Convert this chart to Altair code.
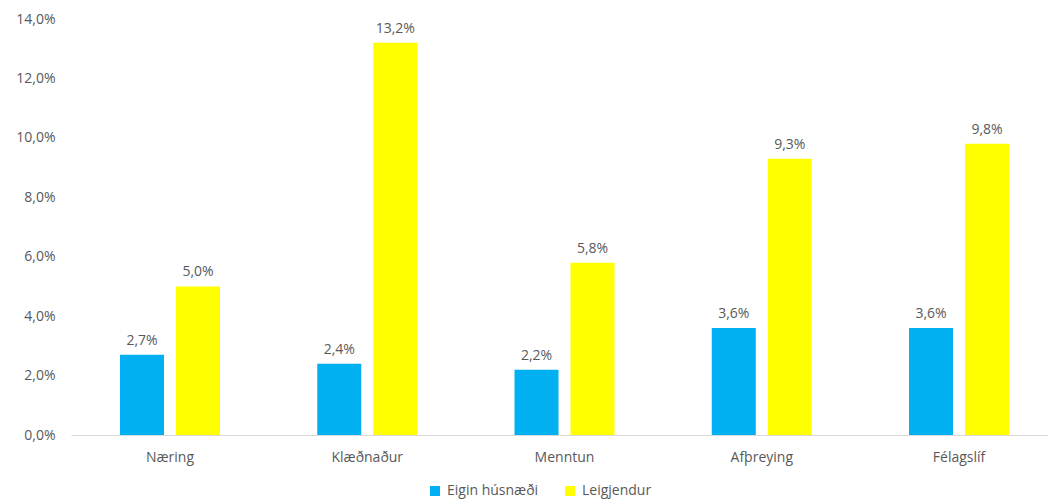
import altair as alt
import pandas as pd

categories = ["Næring", "Klæðnaður", "Menntun", "Afþreying", "Félagslíf"]
series = ["Eigin húsnæði", "Leigjendur"]
eigin = [2.7, 2.4, 2.2, 3.6, 3.6]
leigjendur = [5.0, 13.2, 5.8, 9.3, 9.8]
colors = ["#00B0F0", "#FFFF00"]

rows = []
for c, a, b in zip(categories, eigin, leigjendur):
    rows.append({"flokkur": c, "hopur": series[0], "gildi": a})
    rows.append({"flokkur": c, "hopur": series[1], "gildi": b})
df = pd.DataFrame(rows)

FONT = "Open Sans"
TXT = "#595959"
FS = 14

base = alt.Chart(df).encode(
    x=alt.X("flokkur:N", sort=categories, title=None,
            scale=alt.Scale(paddingInner=0.493, paddingOuter=0.223, align=0.557),
            axis=alt.Axis(labelAngle=0, ticks=False, domainColor="#D9D9D9",
                          labelPadding=15, labelFontSize=FS, labelColor=TXT,
                          labelFont=FONT)),
    xOffset=alt.XOffset("hopur:N", sort=series,
                        scale=alt.Scale(paddingInner=0.214, paddingOuter=0)),
)

bars = base.mark_bar().encode(
    y=alt.Y("gildi:Q", title=None,
            scale=alt.Scale(domain=[0, 14]),
            axis=alt.Axis(values=[0, 2, 4, 6, 8, 10, 12, 14], grid=False,
                          domain=False, ticks=False, labelPadding=16,
                          labelFontSize=FS, labelColor=TXT, labelFont=FONT,
                          labelExpr="replace(format(datum.value, '.1f'), '.', ',') + '%'")),
    color=alt.Color("hopur:N", sort=series,
                    scale=alt.Scale(domain=series, range=colors),
                    legend=alt.Legend(title=None, orient="none", direction="horizontal",
                                      legendX=357, legendY=465, symbolType="square",
                                      symbolSize=100, symbolStrokeWidth=0,
                                      labelFontSize=FS, labelColor=TXT, labelFont=FONT,
                                      columnPadding=24, labelOffset=5)),
)

labels = base.mark_text(baseline="alphabetic", dy=-10, fontSize=FS, color=TXT, font=FONT).encode(
    y=alt.Y("gildi:Q"),
    text=alt.Text("lbl:N"),
).transform_calculate(
    lbl="replace(format(datum.gildi, '.1f'), '.', ',') + '%'"
)

chart = alt.layer(bars, labels).properties(
    width=977, height=416,
    autosize=alt.AutoSizeParams(type="none"),
    padding={"left": 63, "top": 11, "right": 0, "bottom": 64},
).configure_view(stroke=None)

chart.save("out.html", embed_options={"renderer": "svg", "actions": False})
